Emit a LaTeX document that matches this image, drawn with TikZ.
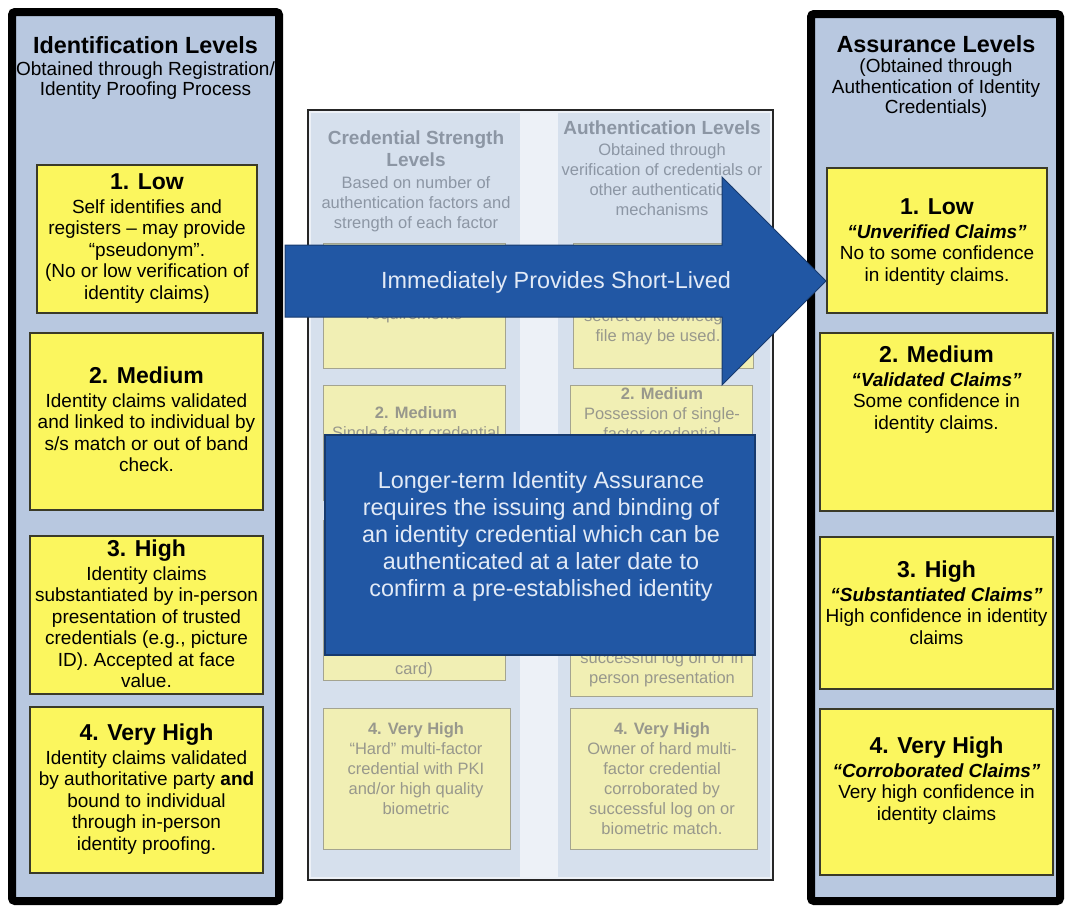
\documentclass[tikz,border=0pt]{standalone}
\usepackage{fontspec}
\setmainfont{Liberation Sans}
\usetikzlibrary{positioning}
\definecolor{panelblue}{HTML}{B8C8E0}
\definecolor{lvlyellow}{HTML}{FBF65E}
\definecolor{boxedge}{HTML}{3A3A28}
\definecolor{fadecolfill}{HTML}{D6E0ED}
\definecolor{fadegap}{HTML}{EDF1F7}
\definecolor{fadeyellow}{HTML}{F1EFB4}
\definecolor{fadeedge}{HTML}{A4A490}
\definecolor{fadegrey}{HTML}{8C96A4}
\definecolor{fadeboxgrey}{HTML}{98988C}
\definecolor{arrowblue}{HTML}{2157A4}
\definecolor{arrowedge}{HTML}{173A6E}
\definecolor{arrowtext}{HTML}{E2EAF6}
\tikzset{
  panel/.style = {draw=black, line width=8pt, fill=panelblue, rounded corners=3pt, inner sep=0pt},
  lvlbox/.style = {draw=boxedge, line width=1.4pt, fill=lvlyellow, inner sep=0pt},
  lvltext/.style = {anchor=north, align=center, inner sep=0pt, font=\fontsize{19}{21.5}\selectfont},
  paneltext/.style = {anchor=north, align=center, inner sep=0pt, font=\fontsize{19}{20.5}\selectfont},
  midframe/.style = {draw=black!85, line width=1.8pt, fill=fadegap, inner sep=0pt},
  fadecol/.style = {fill=fadecolfill, inner sep=0pt},
  fadebox/.style = {draw=fadeedge, line width=1pt, fill=fadeyellow, inner sep=0pt},
  fadehead/.style = {anchor=north, align=center, inner sep=0pt, text=fadegrey, font=\fontsize{16.5}{20}\selectfont},
  fadetext/.style = {anchor=north, align=center, inner sep=0pt, text=fadeboxgrey, font=\fontsize{16.5}{20}\selectfont},
  bluebox/.style = {draw=arrowedge, line width=1.5pt, fill=arrowblue, inner sep=0pt},
  bluetext/.style = {align=center, inner sep=0pt, text=arrowtext, font=\fontsize{23.4}{27}\selectfont},
}
\newcommand{\lvlhead}[1]{{\fontsize{23}{26}\selectfont\bfseries #1}}
\newcommand{\paneltitle}[1]{{\fontsize{23.4}{26}\selectfont\bfseries #1}}
\newcommand{\fadetitle}[1]{{\fontsize{19}{22}\selectfont\bfseries #1}}
\newcommand{\claim}[1]{{\bfseries\itshape #1}}

\begin{document}
\begin{tikzpicture}[x=1pt,y=-1pt]
\useasboundingbox (0,0) rectangle (1068,911);

% faded middle panel
\node[midframe, minimum width=465pt, minimum height=770pt] (mid) at (540.5,495) {};
\node[fadecol, minimum width=209pt, minimum height=764pt] (credcol) at (415.5,495) {};
\node[fadecol, minimum width=212pt, minimum height=764pt] (authcol) at (664,495) {};
\node[fadehead] (credhead) at (416,131) {\fadetitle{Credential Strength}\\[2pt]\fadetitle{Levels}\\[2pt]Based on number of\\authentication factors and\\strength of each factor};
\node[fadehead] (authhead) at (662,121) {\fadetitle{Authentication Levels}\\[1pt]Obtained through\\verification of credentials or\\other authentication\\mechanisms};

\node[fadebox, minimum width=182pt, minimum height=125pt] (cred1) at (414,305.5) {};
\node[fadebox, minimum width=180pt, minimum height=125pt] (auth1) at (663,305.5) {};
\node[fadebox, minimum width=182pt, minimum height=115pt] (cred2) at (414,442.5) {};
\node[fadebox, minimum width=182pt, minimum height=115pt] (auth2) at (661,442.5) {};
\node[fadebox, minimum width=182pt, minimum height=160pt] (cred3) at (414,600) {};
\node[fadebox, minimum width=182pt, minimum height=176pt] (auth3) at (661,608) {};
\node[fadebox, minimum width=187pt, minimum height=141pt] (cred4) at (416.5,778.5) {};
\node[fadebox, minimum width=187pt, minimum height=141pt] (auth4) at (663.5,778.5) {};

\node[fadetext] (cred1t) at (414,307) {requirements};
\node[fadetext] (auth1t) at (658,309) {secret or knowledge\\file may be used.};
\node[fadetext] (cred2t) at (416,406) {\textbf{2. Medium}\\Single factor credential};
\node[fadetext] (auth2t) at (662,387) {\textbf{2. Medium}\\Possession of single-\\factor credential};
\node[fadetext] (cred3t) at (414,662) {card)};
\node[fadetext] (auth3t) at (662,651) {successful log on or in\\person presentation};
\node[fadetext] (cred4t) at (416,722) {\textbf{4. Very High}\\“Hard” multi-factor\\credential with PKI\\and/or high quality\\biometric};
\node[fadetext] (auth4t) at (662,722) {\textbf{4. Very High}\\Owner of hard multi-\\factor credential\\corroborated by\\successful log on or\\biometric match.};

% long-term note
\node[bluebox, minimum width=430pt, minimum height=220pt] (longterm) at (540,545) {};
\node[bluetext, anchor=north] (longtermtext) at (541,471) {Longer-term Identity Assurance\\requires the issuing and binding of\\an identity credential which can be\\authenticated at a later date to\\confirm a pre-established identity};

% assurance levels
\node[panel, minimum width=249pt, minimum height=887pt] (assure) at (935.5,457.5) {};
\node[paneltext] (assurehead) at (936,35) {\paneltitle{Assurance Levels}\\(Obtained through\\Authentication of Identity\\Credentials)};
\node[lvlbox, minimum width=220pt, minimum height=145pt] (R1) at (937,240.5) {};
\node[lvlbox, minimum width=233pt, minimum height=178pt] (R2) at (936.5,422) {};
\node[lvlbox, minimum width=233pt, minimum height=152pt] (R3) at (936.5,613) {};
\node[lvlbox, minimum width=233pt, minimum height=166pt] (R4) at (936.5,792) {};
\node[lvltext] (R1t) at ([yshift=-31pt]R1.north) {\lvlhead{1. Low}\\[2.5pt]\claim{“Unverified Claims”}\\No to some confidence\\in identity claims.};
\node[lvltext] (R2t) at ([yshift=-13pt]R2.north) {\lvlhead{2. Medium}\\[2.5pt]\claim{“Validated Claims”}\\Some confidence in\\identity claims.};
\node[lvltext] (R3t) at ([yshift=-24pt]R3.north) {\lvlhead{3. High}\\[2.5pt]\claim{“Substantiated Claims”}\\High confidence in identity\\claims};
\node[lvltext] (R4t) at ([yshift=-28pt]R4.north) {\lvlhead{4. Very High}\\[2.5pt]\claim{“Corroborated Claims”}\\Very high confidence in\\identity claims};

% short-lived arrow
\filldraw[fill=arrowblue, draw=arrowedge, line width=1pt] (285,245) -- (722,245) -- (722,177) -- (826,281) -- (722,385) -- (722,317) -- (285,317) -- cycle;
\node[bluetext, anchor=base] (shortlived) at (556,288) {Immediately Provides Short-Lived};

% identification levels
\node[panel, minimum width=267pt, minimum height=889pt] (ident) at (145.5,456.5) {};
\node[paneltext] (identhead) at (145.5,36.5) {\paneltitle{Identification Levels}\\[1pt]Obtained through Registration/\\Identity Proofing Process};
\node[lvlbox, minimum width=220pt, minimum height=148pt] (L1) at (147,239) {};
\node[lvlbox, minimum width=233pt, minimum height=177pt] (L2) at (146.5,421.5) {};
\node[lvlbox, minimum width=233pt, minimum height=158pt] (L3) at (146.5,615) {};
\node[lvlbox, minimum width=233pt, minimum height=166pt] (L4) at (146.5,790) {};
\node[lvltext] (L1t) at ([yshift=-9pt]L1.north) {\lvlhead{1. Low}\\[2.5pt]Self identifies and\\registers – may provide\\“pseudonym”.\\(No or low verification of\\identity claims)};
\node[lvltext] (L2t) at ([yshift=-34pt]L2.north) {\lvlhead{2. Medium}\\[2.5pt]Identity claims validated\\and linked to individual by\\s/s match or out of band\\check.};
\node[lvltext] (L3t) at ([yshift=-4pt]L3.north) {\lvlhead{3. High}\\[2.5pt]Identity claims\\substantiated by in-person\\presentation of trusted\\credentials (e.g., picture\\ID). Accepted at face\\value.};
\node[lvltext] (L4t) at ([yshift=-17pt]L4.north) {\lvlhead{4. Very High}\\[2.5pt]Identity claims validated\\by authoritative party \textbf{and}\\bound to individual\\through in-person\\identity proofing.};
\end{tikzpicture}
\end{document}
